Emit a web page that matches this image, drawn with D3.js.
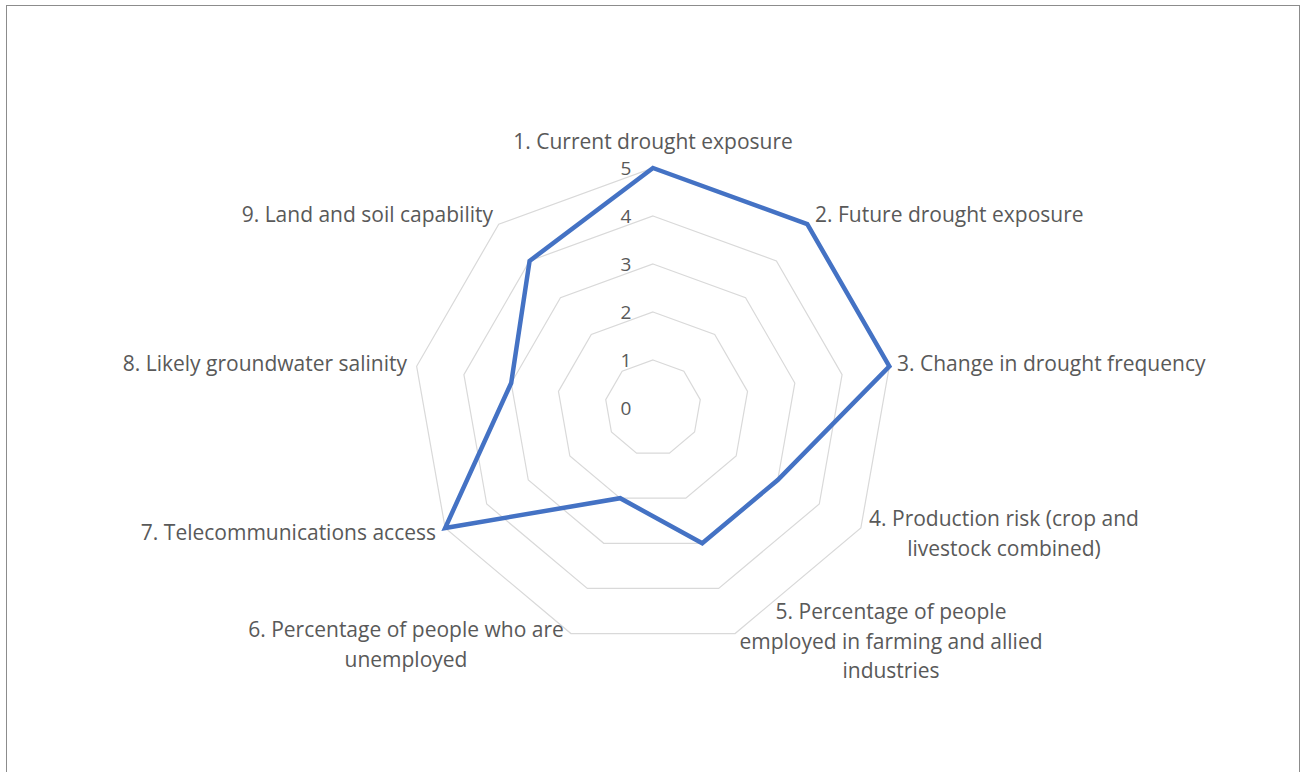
<!DOCTYPE html>
<html><head><meta charset="utf-8">
<script src="https://cdn.jsdelivr.net/npm/d3@7"></script>
<style>html,body{margin:0;padding:0;background:#fff;}svg{display:block;}</style>
</head><body>
<svg id="c" width="1303" height="772"></svg>
<script>
const categories = [
  ["1. Current drought exposure"],
  ["2. Future drought exposure"],
  ["3. Change in drought frequency"],
  ["4. Production risk (crop and", "livestock combined)"],
  ["5. Percentage of people", "employed in farming and allied", "industries"],
  ["6. Percentage of people who are", "unemployed"],
  ["7. Telecommunications access"],
  ["8. Likely groundwater salinity"],
  ["9. Land and soil capability"]
];
const values = [5, 5, 5, 3, 3, 2, 5, 3, 4];
const tickValues = [0, 1, 2, 3, 4, 5];

const svg = d3.select("#c");
const cx = 653, cy = 408, R = 240;
const font = "'Open Sans', sans-serif";
const textColor = "#595959";

svg.append("rect").attr("x", 6.5).attr("y", 5.5).attr("width", 1293).attr("height", 770)
  .attr("fill", "#fff").attr("stroke", "#8c8c8c").attr("stroke-width", 1);

const n = categories.length;
const angle = d3.scaleLinear().domain([0, n]).range([0, 2 * Math.PI]);
const r = d3.scaleLinear().domain([0, 5]).range([0, R]);
const pt = (i, v) => [cx + r(v) * Math.sin(angle(i)), cy - r(v) * Math.cos(angle(i))];

const g = svg.append("g");
tickValues.filter(t => t > 0).forEach(t => {
  const pts = d3.range(n).map(i => pt(i, t));
  g.append("path").attr("d", d3.line()(pts) + "Z")
    .attr("fill", "none").attr("stroke", "#d9d9d9").attr("stroke-width", 1.2);
});

g.selectAll(".tick").data(tickValues).join("text")
  .attr("x", cx - 27).attr("y", d => cy - r(d))
  .attr("dy", "0.35em").attr("text-anchor", "middle")
  .attr("font-family", font).attr("font-size", 19).attr("fill", textColor)
  .text(d => d);

const linePts = values.map((v, i) => pt(i, v));
g.append("path").attr("d", d3.line()(linePts) + "Z")
  .attr("fill", "none").attr("stroke", "#4472C4").attr("stroke-width", 4.5)
  .attr("stroke-linejoin", "miter");

const labelPos = [
  {x: 653, y: 141, a: "middle"},
  {x: 815, y: 214, a: "start"},
  {x: 897, y: 363, a: "start"},
  {x: 1004, y: 518, a: "middle"},
  {x: 891, y: 611, a: "middle"},
  {x: 406, y: 629, a: "middle"},
  {x: 436, y: 532, a: "end"},
  {x: 407, y: 363, a: "end"},
  {x: 493, y: 214, a: "end"}
];
const lh = 29.5;
categories.forEach((lines, i) => {
  const p = labelPos[i];
  const t = svg.append("text").attr("x", p.x).attr("y", p.y)
    .attr("text-anchor", p.a).attr("font-family", font).attr("font-size", 21)
    .attr("fill", textColor).attr("dominant-baseline", "central");
  lines.forEach((l, j) => t.append("tspan").attr("x", p.x).attr("dy", j === 0 ? 0 : lh).text(l));
});
</script>
</body></html>
